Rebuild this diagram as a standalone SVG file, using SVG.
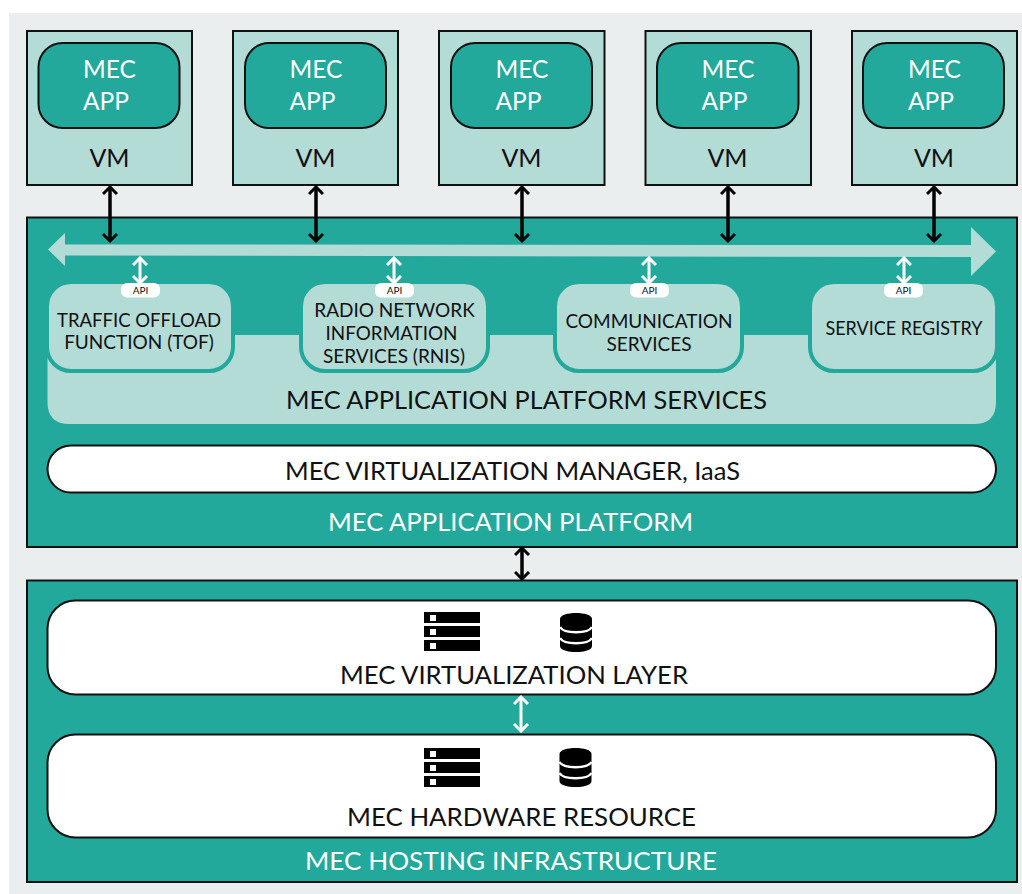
<svg xmlns="http://www.w3.org/2000/svg" xmlns:xlink="http://www.w3.org/1999/xlink" width="1022" height="894" viewBox="0 0 1022 894">
<style>
text{font-family:"Lato","Noto Sans","Liberation Sans",sans-serif;text-anchor:middle;fill:#111}
.w{fill:#fff}
.s{text-anchor:start}
.vm{fill:#b3dcd7;stroke:#111;stroke-width:2}
.app{fill:#23a99b;stroke:#111;stroke-width:2}
.plat{fill:#23a99b;stroke:#111;stroke-width:2}
.bar{fill:#fff;stroke:#111;stroke-width:2}
.card{fill:#b3dcd7;stroke:#23a99b;stroke-width:4}
.lt{fill:#b3dcd7}
.blk{fill:none;stroke:#000;stroke-width:3.500;marker-start:url(#hb);marker-end:url(#hb)}
.wht{fill:none;stroke:#fff;stroke-width:3;marker-start:url(#hw);marker-end:url(#hw)}
.t25{font-size:25px}.t19{font-size:19px}.t10{font-size:10px}
</style>
<defs>
<marker id="hb" viewBox="0 0 16 16" refX="14" refY="8" markerWidth="16" markerHeight="16" markerUnits="userSpaceOnUse" orient="auto-start-reverse"><path d="M7 1L14 8L7 15" fill="none" stroke="#000" stroke-width="3"/></marker>
<marker id="hw" viewBox="0 0 16 16" refX="14" refY="8" markerWidth="16" markerHeight="16" markerUnits="userSpaceOnUse" orient="auto-start-reverse"><path d="M7 1L14 8L7 15" fill="none" stroke="#fff" stroke-width="3"/></marker>
<g id="srv"><rect x="0" y="0" width="56" height="11"/><rect x="0" y="14" width="56" height="11"/><rect x="0" y="28" width="56" height="11"/><rect x="6" y="3" width="6" height="6" fill="#fff"/><rect x="6" y="17" width="6" height="6" fill="#fff"/><rect x="6" y="31" width="6" height="6" fill="#fff"/></g>
<g id="db"><path d="M0 6C0 -2 32 -2 32 6V33C32 41 0 41 0 33Z"/><path d="M0 14C4 21 28 21 32 14M0 25C4 32 28 32 32 25" fill="none" stroke="#fff" stroke-width="2.500"/></g>
</defs>
<rect x="9" y="13" width="1013" height="881" fill="#eaeeef"/>

<g id="vm1"><rect class="vm" x="27" y="31" width="165" height="154"/><rect class="app" x="38.500" y="43" width="141" height="85" rx="24"/><text class="t25 w s" x="83" y="78" textLength="53" lengthAdjust="spacingAndGlyphs">MEC</text><text class="t25 w s" x="83" y="110" textLength="46" lengthAdjust="spacingAndGlyphs">APP</text><text class="t25" x="109.500" y="167">VM</text></g>
<g id="vm2"><rect class="vm" x="233" y="31" width="165" height="154"/><rect class="app" x="245" y="43" width="141" height="85" rx="24"/><text class="t25 w s" x="289.500" y="78" textLength="53" lengthAdjust="spacingAndGlyphs">MEC</text><text class="t25 w s" x="289.500" y="110" textLength="46" lengthAdjust="spacingAndGlyphs">APP</text><text class="t25" x="315.500" y="167">VM</text></g>
<g id="vm3"><rect class="vm" x="439" y="31" width="165.500" height="154"/><rect class="app" x="451" y="43" width="141" height="85" rx="24"/><text class="t25 w s" x="495.500" y="78" textLength="53" lengthAdjust="spacingAndGlyphs">MEC</text><text class="t25 w s" x="495.500" y="110" textLength="46" lengthAdjust="spacingAndGlyphs">APP</text><text class="t25" x="521.500" y="167">VM</text></g>
<g id="vm4"><rect class="vm" x="645.500" y="31" width="165.500" height="154"/><rect class="app" x="657" y="43" width="141.500" height="85" rx="24"/><text class="t25 w s" x="701.500" y="78" textLength="53" lengthAdjust="spacingAndGlyphs">MEC</text><text class="t25 w s" x="701.500" y="110" textLength="46" lengthAdjust="spacingAndGlyphs">APP</text><text class="t25" x="727.500" y="167">VM</text></g>
<g id="vm5"><rect class="vm" x="852" y="31" width="165" height="154"/><rect class="app" x="863" y="43" width="141" height="85" rx="24"/><text class="t25 w s" x="908" y="78" textLength="53" lengthAdjust="spacingAndGlyphs">MEC</text><text class="t25 w s" x="908" y="110" textLength="46" lengthAdjust="spacingAndGlyphs">APP</text><text class="t25" x="934" y="167">VM</text></g>

<g id="platform"><rect class="plat" x="27" y="217.500" width="990" height="329.500"/><text class="t25 w" x="510.500" y="530.500" textLength="365" lengthAdjust="spacingAndGlyphs">MEC APPLICATION PLATFORM</text></g>
<g id="services"><path class="lt" d="M47.500 335H996V402Q996 424 974 424H69.500Q47.500 424 47.500 402Z"/><text class="t25" x="526.500" y="408.500" textLength="481" lengthAdjust="spacingAndGlyphs">MEC APPLICATION PLATFORM SERVICES</text></g>
<g id="bus"><path class="lt" d="M48 249.500L65 233V244.500L971 245V227L996 251.500L971 276V257L65 255.500V266Z"/></g>

<g id="tof"><rect class="card" x="47" y="282" width="186" height="89" rx="24"/><text class="t19" x="139" y="326.500" textLength="164" lengthAdjust="spacingAndGlyphs">TRAFFIC OFFLOAD</text><text class="t19" x="139" y="349">FUNCTION (TOF)</text></g>
<g id="rnis"><rect class="card" x="301" y="282" width="187" height="89" rx="24"/><text class="t19" x="394.500" y="316.500">RADIO NETWORK</text><text class="t19" x="391.500" y="339.500" textLength="132" lengthAdjust="spacingAndGlyphs">INFORMATION</text><text class="t19" x="394" y="362.500">SERVICES (RNIS)</text></g>
<g id="comm"><rect class="card" x="555" y="282" width="187" height="89" rx="24"/><text class="t19" x="649" y="327.500">COMMUNICATION</text><text class="t19" x="649" y="350.500">SERVICES</text></g>
<g id="registry"><rect class="card" x="810" y="282" width="187" height="89" rx="24"/><text class="t19" x="904" y="335" textLength="157" lengthAdjust="spacingAndGlyphs">SERVICE REGISTRY</text></g>
<path d="M46 280V335H49V306Q49 284 71 284H209Q231 284 231 306V335H234V280ZM300 280V335H303V306Q303 284 325 284H464Q486 284 486 306V335H489V280ZM554 280V335H557V306Q557 284 579 284H718Q740 284 740 306V335H743V280ZM809 280V335H812V306Q812 284 834 284H973Q995 284 995 306V335H998V280Z" fill="#23a99b"/>

<g id="vmanager"><rect class="bar" x="47.500" y="445.500" width="948.500" height="47" rx="23.500"/><text class="t25" x="512.500" y="479.500" textLength="455" lengthAdjust="spacingAndGlyphs">MEC VIRTUALIZATION MANAGER, IaaS</text></g>

<g id="infra"><rect class="plat" x="27" y="580.500" width="990" height="301.500"/><text class="t25 w" x="511" y="869.500" textLength="412" lengthAdjust="spacingAndGlyphs">MEC HOSTING INFRASTRUCTURE</text></g>
<g id="vlayer"><rect class="bar" x="47.500" y="600.500" width="948.500" height="94" rx="28"/><use href="#srv" x="424" y="612"/><use href="#db" x="560" y="613"/><text class="t25" x="514" y="683.500" textLength="348" lengthAdjust="spacingAndGlyphs">MEC VIRTUALIZATION LAYER</text></g>
<g id="hw"><rect class="bar" x="47.500" y="734.500" width="948.500" height="103" rx="28"/><use href="#srv" x="424" y="748"/><use href="#db" x="559.500" y="748"/><text class="t25" x="521.500" y="825.500" textLength="349" lengthAdjust="spacingAndGlyphs">MEC HARDWARE RESOURCE</text></g>

<g id="connectors">
<path class="blk" d="M110 187V241"/><path class="blk" d="M316 187V241"/><path class="blk" d="M522 187V241"/><path class="blk" d="M728 187V241"/><path class="blk" d="M934 187V241"/>
<path class="blk" d="M522 548V579"/>
<path class="wht" d="M140 258V283"/><path class="wht" d="M394 258V283"/><path class="wht" d="M649 258V283"/><path class="wht" d="M904 258V283"/>
<path class="wht" d="M521 697V731"/>
</g>
<g id="api1"><rect x="121" y="283" width="39" height="14.500" rx="6" fill="#fff"/><text class="t10" x="140.500" y="294">API</text></g>
<g id="api2"><rect x="375" y="283" width="39" height="14.500" rx="6" fill="#fff"/><text class="t10" x="394.500" y="294">API</text></g>
<g id="api3"><rect x="630" y="283" width="39" height="14.500" rx="6" fill="#fff"/><text class="t10" x="649.500" y="294">API</text></g>
<g id="api4"><rect x="884" y="283" width="39" height="14.500" rx="6" fill="#fff"/><text class="t10" x="903.500" y="294">API</text></g>
</svg>
